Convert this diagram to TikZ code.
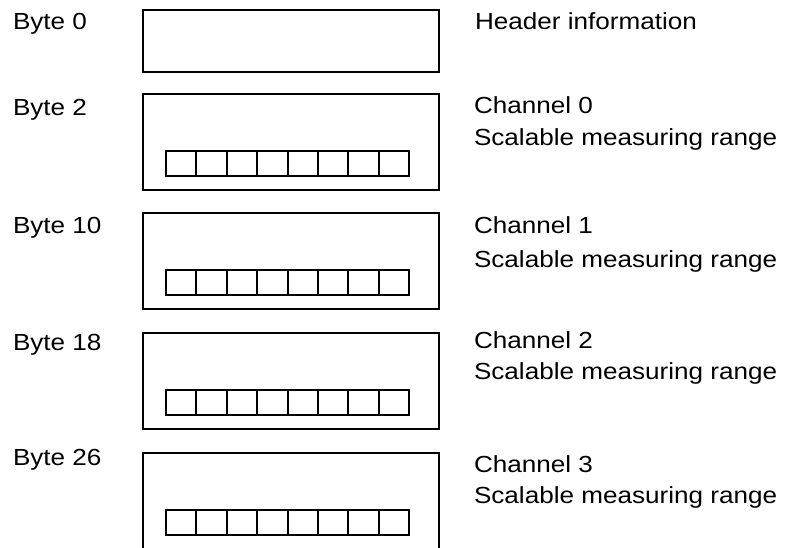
\documentclass[tikz,border=0pt]{standalone}
\usepackage{fontspec}
\setmainfont{Liberation Sans}[FakeStretch=1.12]
\begin{document}
\begin{tikzpicture}[x=1pt,y=-1pt,line width=2pt,
        lbl/.style={anchor=base west,inner sep=0pt,font=\fontsize{23.3}{28}\selectfont}]
        \useasboundingbox (0,0) rectangle (785,547);

        % Header block
        \node[lbl] (byteH) at (12,29.5) {Byte 0};
        \draw (143,10) rectangle (439,72);
        \node[lbl] (header) at (474,29.5) {Header information};

        % Channel blocks
        \foreach \ch/\byte/\yb/\yc/\ys/\top in {0/2/115/113/145/94,
                1/10/233/233/267/213, 2/18/350/348/379/333, 3/26/465/472/503/453}{
            \node[lbl] (byte\ch) at (12,\yb) {Byte \byte};
            \draw (143,\top) rectangle (439,\top+96);
            \foreach \i in {0,...,7}
                \draw (166+\i*30.375,\top+57) rectangle ++(30.375,25);
            \node[lbl] (chan\ch) at (473,\yc) {Channel \ch};
            \node[lbl] (range\ch) at (473,\ys) {Scalable measuring range};
        }
        \end{tikzpicture}
\end{document}
